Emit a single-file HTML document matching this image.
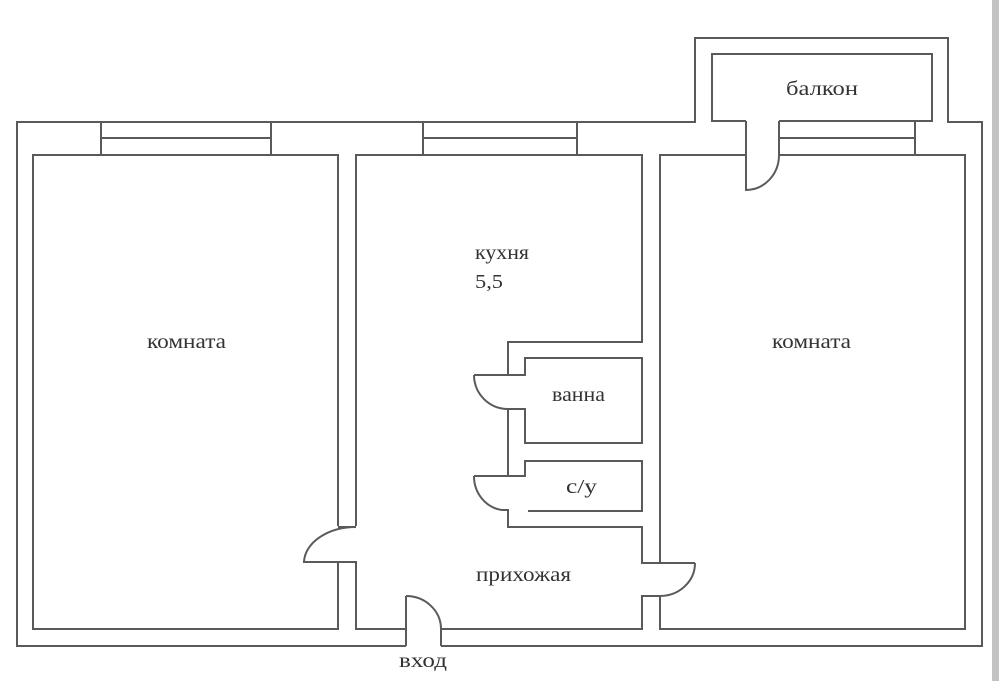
<!DOCTYPE html>
<html><head><meta charset="utf-8"><style>
html,body{margin:0;padding:0;background:#fff;}
svg{display:block;}
text{font-family:"Liberation Serif",serif;font-size:20px;fill:#333;}
</style></head><body>
<svg width="999" height="681" viewBox="0 0 999 681" xmlns="http://www.w3.org/2000/svg">
<rect x="0" y="0" width="999" height="681" fill="#fff"/>
<rect x="992" y="0" width="7" height="681" fill="#c2c2c2"/>
<g fill="none" stroke="#5a5a5a" stroke-width="2">
<path d="M406,646 H17 V122 H695 V38 H948 V122 H982 V646 H441"/>
<path d="M746,121 H712 V54 H932 V121 H779"/>
<path d="M338,526 V155 H33 V629 H338 V562"/>
<path d="M101,122 V155 M271,122 V155 M101,138 H271"/>
<path d="M356,526 V155 H642 V342 H508 V375"/>
<path d="M423,122 V155 M577,122 V155 M423,138 H577"/>
<path d="M338,527 H356"/>
<path d="M356,527 A52,36 0 0 0 304,562 H356 V629 H406 V596"/>
<path d="M338,562 V629"/>
<path d="M406,596 V646"/>
<path d="M406,596 A35,33 0 0 1 441,629 V646"/>
<path d="M441,629 H642 V596 H660 V629 H965 V155 H779"/>
<path d="M746,155 H660 V563"/>
<path d="M746,121 V190 A33,35 0 0 0 779,155 V121"/>
<path d="M779,138 H915 M915,121 V155"/>
<path d="M474,375 H525 V358 H642 V443 H525 V409 H508 V476"/>
<path d="M474,375 A34,34 0 0 0 508,409"/>
<path d="M474,476 H525 V461 H642 V511 H528"/>
<path d="M474,476 A32,34 0 0 0 502,510 H508 V527 H642 V563 H695"/>
<path d="M695,563 A35,33 0 0 1 660,596"/>
<path d="M642,342 V155"/>
</g>
<text x="475" y="259" textLength="54" lengthAdjust="spacingAndGlyphs">кухня</text>
<text x="475" y="288" textLength="28" lengthAdjust="spacingAndGlyphs">5,5</text>
<text x="147" y="348" textLength="79" lengthAdjust="spacingAndGlyphs">комната</text>
<text x="772" y="348" textLength="79" lengthAdjust="spacingAndGlyphs">комната</text>
<text x="552" y="401" textLength="53" lengthAdjust="spacingAndGlyphs">ванна</text>
<text x="566" y="493" textLength="31" lengthAdjust="spacingAndGlyphs">с/у</text>
<text x="476" y="581" textLength="95" lengthAdjust="spacingAndGlyphs">прихожая</text>
<text x="786" y="95" textLength="72" lengthAdjust="spacingAndGlyphs">балкон</text>
<text x="399" y="667" textLength="48" lengthAdjust="spacingAndGlyphs">вход</text>
</svg>
</body></html>
